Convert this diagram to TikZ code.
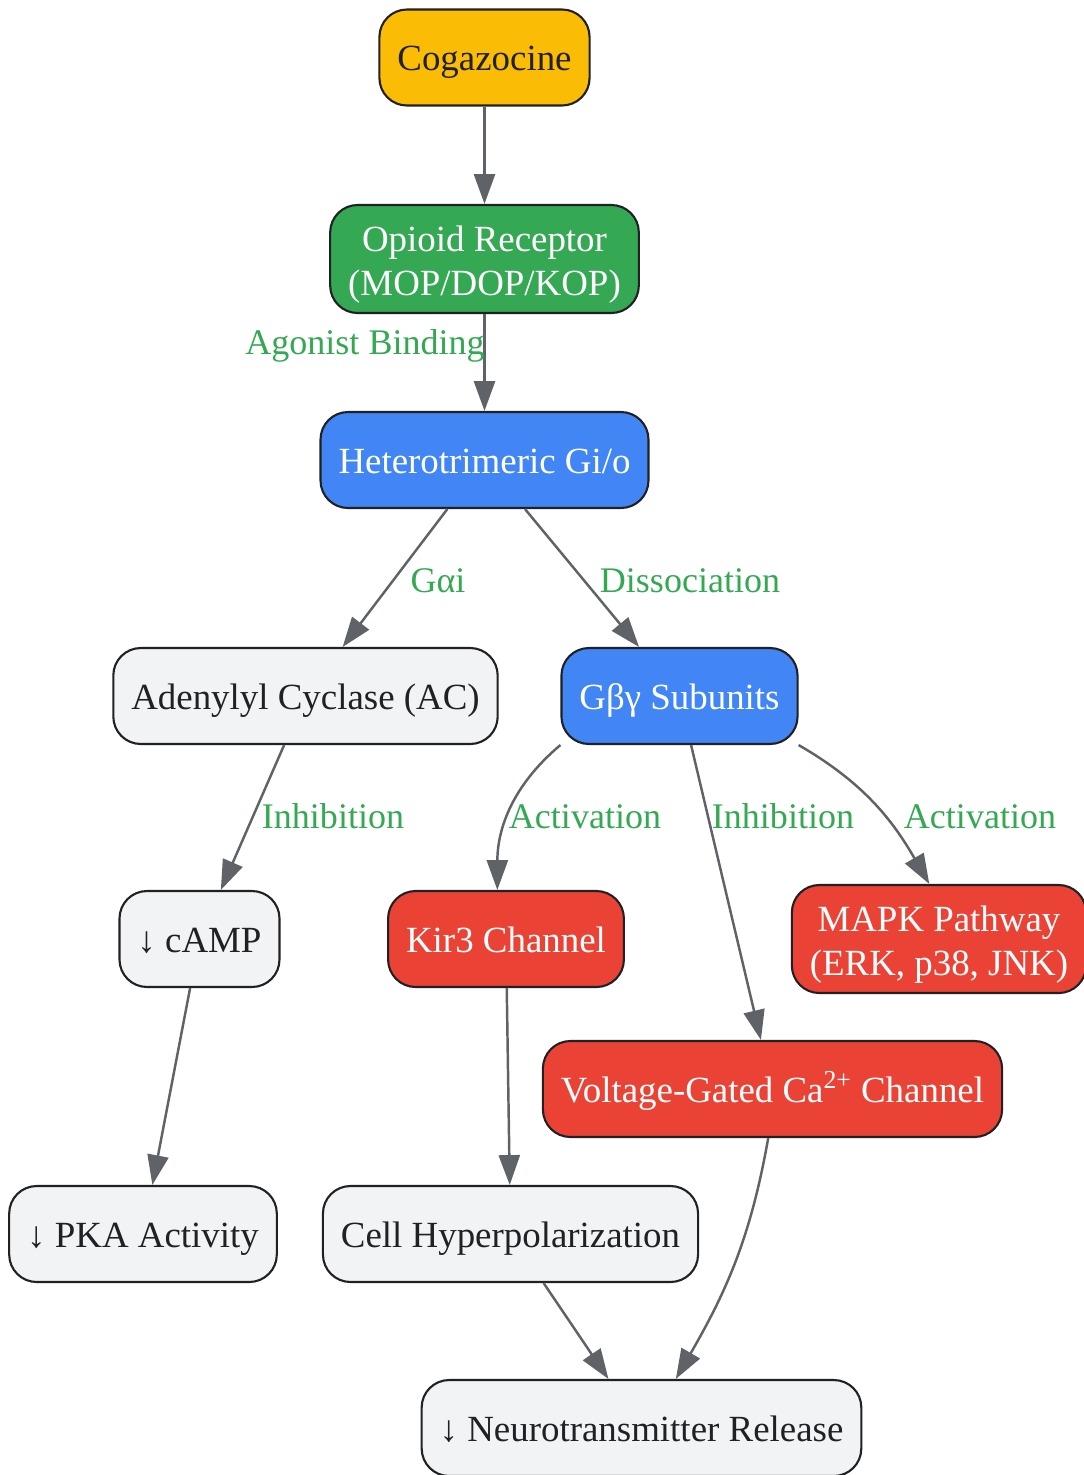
\documentclass[tikz,border=0pt]{standalone}
\usepackage{fontspec}
\setmainfont{Liberation Serif}
\usetikzlibrary{arrows.meta,calc,positioning}

\definecolor{drugyellow}{HTML}{FBBC05}
\definecolor{recgreen}{HTML}{34A853}
\definecolor{gblue}{HTML}{4285F4}
\definecolor{effred}{HTML}{EA4335}
\definecolor{cellgray}{HTML}{F1F3F4}
\definecolor{boxline}{HTML}{202124}
\definecolor{edgegray}{HTML}{5F6368}

\begin{document}
\begin{tikzpicture}[x=0.02cm,y=0.02cm,
    box/.style={draw=boxline,line width=1.2pt,rounded corners=0.55cm,fill=cellgray,text=boxline,
        minimum height=1.92cm,inner xsep=0.36cm,inner ysep=0.3cm,align=center,
        text height=16pt,text depth=1pt,
        font=\fontsize{21}{24.5}\selectfont},
    twoline/.style={text height=41pt,text depth=0pt,inner ysep=0.36cm},
    drug/.style={box,fill=drugyellow},
    receptor/.style={box,fill=recgreen,text=white},
    gprot/.style={box,fill=gblue,text=white},
    effector/.style={box,fill=effred,text=white},
    lbl/.style={text=recgreen,inner sep=0pt,text height=7pt,text depth=2.2pt,
        font=\fontsize{20.5}{24}\selectfont},
    edge/.style={draw=edgegray,line width=1.4pt,-{Triangle[length=17pt,width=12pt]}}
]
    % Fix the page to the reference size
    \useasboundingbox (0,0) rectangle (1083,-1475);

    % Signalling cascade, top to bottom
    \node[drug] (cog) at (484.5,-57.5) {Cogazocine};
    \node[receptor,twoline] (opr) at (484.5,-259) {Opioid Receptor\\(MOP/DOP/KOP)};
    \node[gprot] (gio) at (484.5,-460) {Heterotrimeric Gi/o};
    \node[box] (ac) at (305.5,-696) {Adenylyl Cyclase (AC)};
    \node[gprot] (gby) at (679.5,-696) {Gβγ Subunits};
    \node[box] (camp) at (199.5,-939) {↓ cAMP};
    \node[effector] (kir) at (506,-939) {Kir3 Channel};
    \node[effector,twoline] (mapk) at (939,-939) {MAPK Pathway\\(ERK, p38, JNK)};
    \node[effector] (vgcc) at (772.5,-1089) {Voltage-Gated Ca\textsuperscript{2+} Channel};
    \node[box] (pka) at (143,-1234) {↓ PKA Activity};
    \node[box] (hyp) at (510.5,-1234) {Cell Hyperpolarization};
    \node[box] (nt) at (641.5,-1428) {↓ Neurotransmitter Release};

    % Straight connectors
    \foreach \a/\b in {cog/opr,opr/gio,gio/ac,gio/gby,ac/camp,gby/vgcc,camp/pka,kir/hyp,hyp/nt}
    {
        \draw[edge] (\a) -- (\b);
    }

    % Bent connectors
    \draw[edge] (gby.south west) to[out=220,in=90] (kir.100);
    \draw[edge] (gby.south east) to[out=-30,in=120] (mapk.100);
    \draw[edge] (vgcc.265) to[out=-100,in=60] (nt.55);

    % Edge labels
    \node[lbl] (lbind) at (365,-350) {Agonist Binding};
    \node[lbl] (lgai) at (438,-588) {Gαi};
    \node[lbl] (ldiss) at (690,-588) {Dissociation};
    \node[lbl] (linhac) at (333,-824) {Inhibition};
    \node[lbl] (lactkir) at (585,-824) {Activation};
    \node[lbl] (linhca) at (783,-824) {Inhibition};
    \node[lbl] (lactmapk) at (980,-824) {Activation};
\end{tikzpicture}
\end{document}
